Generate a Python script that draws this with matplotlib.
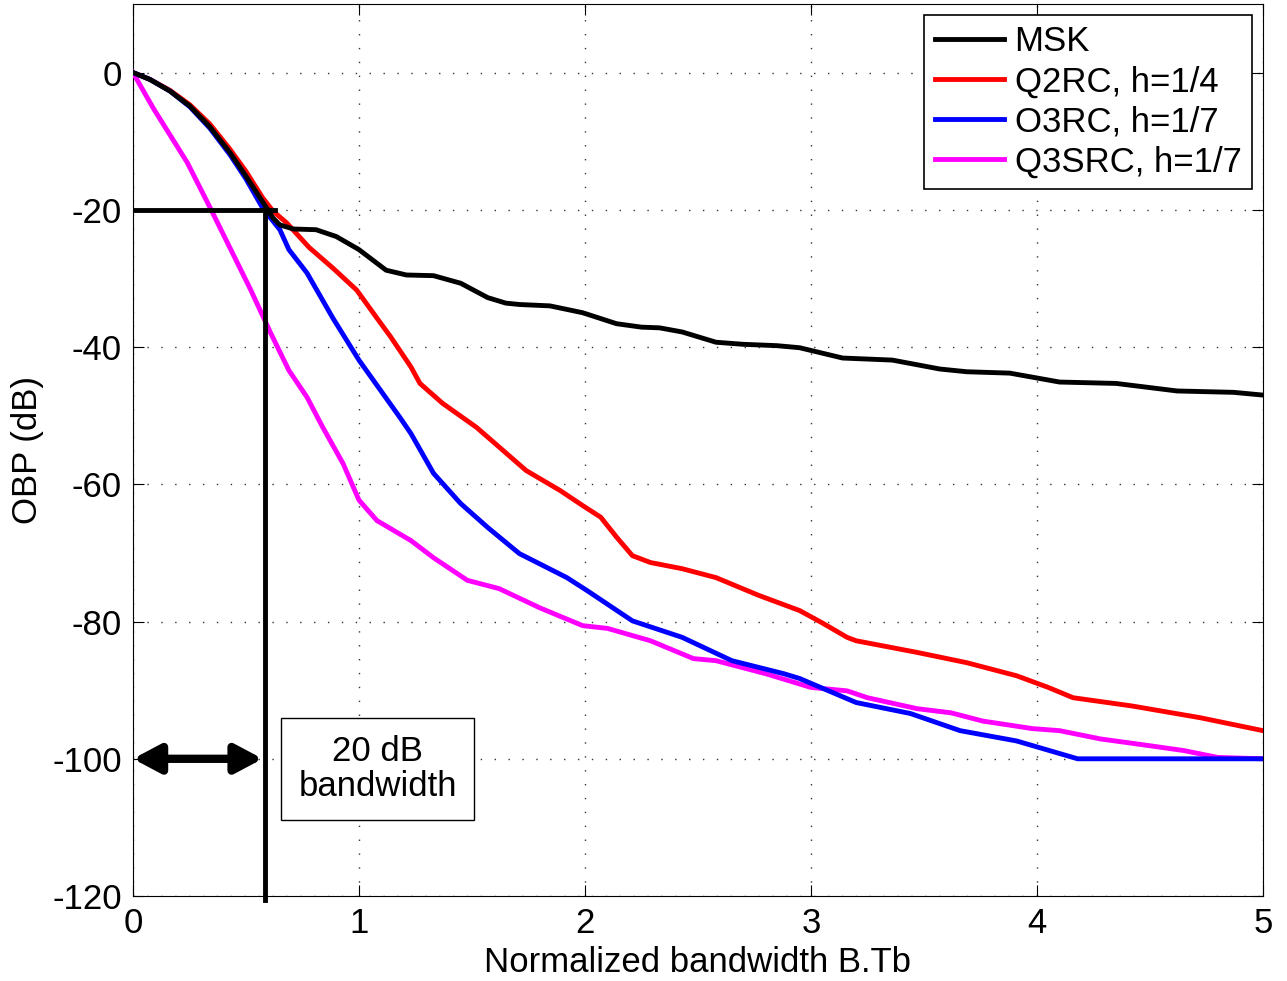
import numpy as np
import matplotlib.pyplot as plt

plt.rcParams['font.family'] = ['Liberation Sans', 'DejaVu Sans']
plt.rcParams['axes.unicode_minus'] = False

# occupied bandwidth curves
msk_x = [0, 0.075, 0.164, 0.252, 0.34, 0.43, 0.50, 0.575, 0.62, 0.65, 0.71, 0.81, 0.90, 1.0,
         1.12, 1.21, 1.33, 1.45, 1.57, 1.65, 1.71, 1.845, 1.99, 2.14, 2.25, 2.33, 2.43, 2.58,
         2.70, 2.85, 2.95, 3.14, 3.36, 3.57, 3.69, 3.88, 4.10, 4.35, 4.62, 4.87, 5.0]
msk_y = [0, -1.0, -2.7, -4.9, -7.9, -11.7, -15.1, -18.9, -21.2, -22.2, -22.8, -22.9, -23.9, -25.8,
         -28.8, -29.5, -29.6, -30.7, -32.8, -33.6, -33.8, -34.0, -35.0, -36.6, -37.1, -37.2, -37.8, -39.3,
         -39.6, -39.8, -40.1, -41.6, -41.9, -43.2, -43.6, -43.8, -45.1, -45.3, -46.4, -46.6, -47.0]

q2rc_x = [0, 0.075, 0.164, 0.252, 0.34, 0.43, 0.50, 0.575, 0.62, 0.68, 0.78, 0.885, 0.99, 1.08,
          1.14, 1.23, 1.27, 1.37, 1.52, 1.74, 1.89, 1.99, 2.07, 2.14, 2.21, 2.29, 2.43, 2.58, 2.77,
          2.95, 3.05, 3.16, 3.2, 3.47, 3.69, 3.91, 4.05, 4.16, 4.42, 4.72, 5.0]
q2rc_y = [0, -1.0, -2.6, -4.7, -7.5, -11.2, -14.4, -18.3, -20.2, -21.9, -25.5, -28.5, -31.7, -35.8,
          -38.5, -42.9, -45.3, -48.2, -51.7, -58.0, -60.9, -63.1, -64.8, -67.7, -70.4, -71.4, -72.3, -73.6, -76.2,
          -78.4, -80.2, -82.3, -82.8, -84.5, -86.0, -87.9, -89.6, -91.1, -92.3, -94.0, -95.9]

o3rc_x = [0, 0.075, 0.164, 0.252, 0.34, 0.43, 0.50, 0.575, 0.65, 0.69, 0.77, 0.885, 1.0, 1.18,
          1.23, 1.33, 1.45, 1.57, 1.71, 1.92, 2.01, 2.21, 2.43, 2.65, 2.88, 2.95, 3.2, 3.44, 3.66,
          3.91, 4.18, 5.0]
o3rc_y = [0, -1.0, -2.7, -5.0, -8.1, -12.0, -15.5, -19.8, -22.9, -25.8, -29.2, -35.8, -41.9, -50.2,
          -52.6, -58.4, -62.8, -66.3, -70.1, -73.6, -75.5, -79.9, -82.3, -85.7, -87.6, -88.3, -91.8, -93.4, -95.9,
          -97.4, -100, -100]

q3src_x = [0, 0.09, 0.24, 0.34, 0.46, 0.52, 0.61, 0.69, 0.77, 0.84, 0.93, 1.0, 1.08, 1.23, 1.33,
           1.48, 1.62, 1.80, 1.99, 2.10, 2.29, 2.48, 2.58, 2.80, 3.0, 3.16, 3.25, 3.47, 3.62, 3.76,
           3.98, 4.10, 4.28, 4.5, 4.65, 4.8, 5.0]
q3src_y = [0, -5.2, -13.1, -19.6, -27.6, -31.6, -38.0, -43.4, -47.3, -51.7, -57.0, -62.3, -65.3, -68.2, -70.7,
           -74.0, -75.2, -78.0, -80.6, -81.0, -82.8, -85.4, -85.7, -87.6, -89.6, -90.1, -91.1, -92.7, -93.3, -94.5,
           -95.6, -95.9, -97.1, -98.1, -98.8, -99.8, -100]

bw20 = 0.584

fig = plt.figure(figsize=(12.87, 9.81), dpi=100)
ax = fig.add_axes([0.1033, 0.0866, 0.878, 0.9094])

lw = 3.5
ax.plot(msk_x, msk_y, color='black', lw=lw, label='MSK', zorder=5)
ax.plot(q2rc_x, q2rc_y, color='red', lw=lw, label='Q2RC, h=1/4', zorder=3)
ax.plot(o3rc_x, o3rc_y, color='blue', lw=lw, label='O3RC, h=1/7', zorder=4)
ax.plot(q3src_x, q3src_y, color='magenta', lw=lw, label='Q3SRC, h=1/7', zorder=3)

# 20 dB bandwidth markers
ax.plot([0, 0.628], [-20, -20], color='black', lw=lw, zorder=6)
ax.plot([bw20, bw20], [-20, -120.6], color='black', lw=lw, zorder=6, clip_on=False)
ax.annotate('', xy=(0, -100), xytext=(bw20 - 0.01, -100),
            arrowprops=dict(arrowstyle='<|-|>,head_length=1.6,head_width=0.85',
                            color='black', lw=6, shrinkA=0, shrinkB=0), zorder=7)
ax.text(1.082, -101.5, '20 dB\nbandwidth', ha='center', va='center', fontsize=25,
        linespacing=1.05,
        bbox=dict(boxstyle='square,pad=0.5', fc='white', ec='black', lw=1))

ax.set_xlim(0, 5)
ax.set_ylim(-120, 10)
ax.set_xticks([0, 1, 2, 3, 4, 5])
ax.set_yticks([-120, -100, -80, -60, -40, -20, 0])
ax.grid(True, linestyle=(0, (1, 9)), color='#333333', lw=1.0)
ax.tick_params(direction='in', labelsize=25, length=8, top=True, right=True, pad=8)
ax.set_xlabel('Normalized bandwidth B.Tb', fontsize=25, labelpad=4)
ax.set_ylabel('OBP (dB)', fontsize=25, labelpad=6)

leg = ax.legend(loc='upper right', fontsize=25, fancybox=False, framealpha=1,
                edgecolor='black', handlelength=2.0, handletextpad=0.3,
                borderpad=0.3, labelspacing=0.2, borderaxespad=0.32)
leg.get_frame().set_linewidth(1.2)

fig.savefig('out.png', dpi=100)
